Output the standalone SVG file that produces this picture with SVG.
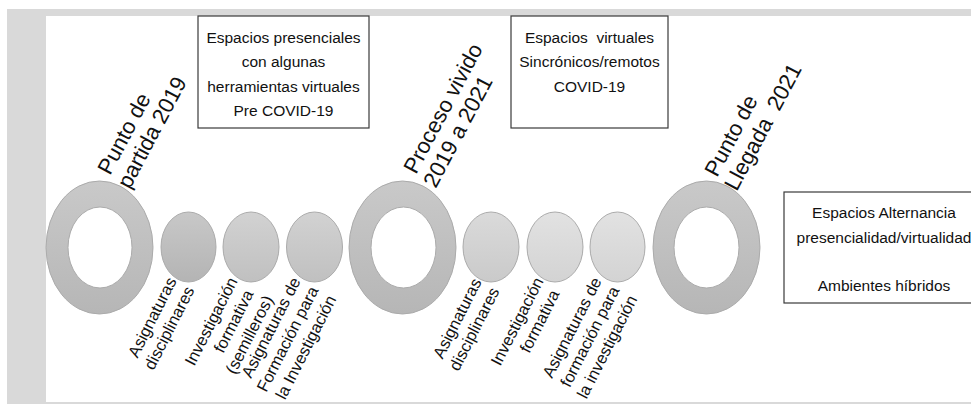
<svg xmlns="http://www.w3.org/2000/svg" width="971" height="404" viewBox="0 0 971 404">
<defs>
<linearGradient id="gRing" x1="0" y1="0" x2="0" y2="1"><stop offset="0" stop-color="#c9c9c9"/><stop offset="1" stop-color="#b6b6b6"/></linearGradient>
<linearGradient id="gA1" x1="0" y1="0" x2="0" y2="1"><stop offset="0" stop-color="#c8c8c8"/><stop offset="1" stop-color="#b4b4b4"/></linearGradient>
<linearGradient id="gA2" x1="0" y1="0" x2="0" y2="1"><stop offset="0" stop-color="#d2d2d2"/><stop offset="1" stop-color="#c0c0c0"/></linearGradient>
<linearGradient id="gB1" x1="0" y1="0" x2="0" y2="1"><stop offset="0" stop-color="#dadada"/><stop offset="1" stop-color="#cacaca"/></linearGradient>
<linearGradient id="gB2" x1="0" y1="0" x2="0" y2="1"><stop offset="0" stop-color="#e2e2e2"/><stop offset="1" stop-color="#d3d3d3"/></linearGradient>
</defs>
<style>
.frame{fill:#d9d9d9}
.ring{fill:url(#gRing);stroke:#ababab;stroke-width:1}
.hole{fill:#ffffff;stroke:#ababab;stroke-width:1}
.dot{stroke:#ababab;stroke-width:1}
.box{fill:#ffffff;stroke:#3a3a3a;stroke-width:1.2}
.bt{font-family:"Liberation Sans",Arial,sans-serif;font-size:15.5px;fill:#111;text-anchor:middle}
.big{font-family:"Liberation Sans",Arial,sans-serif;font-size:22px;fill:#111}
.sm{font-family:"Liberation Sans",Arial,sans-serif;font-size:16.5px;fill:#111;text-anchor:end}
</style>
<rect x="0" y="0" width="971" height="404" fill="#ffffff"/>
<rect class="frame" x="7" y="9" width="964" height="7"/>
<rect class="frame" x="7" y="9" width="39" height="395"/>
<rect class="frame" x="7" y="402" width="964" height="2"/>

<g id="connectors"/>

<g id="box1">
<rect class="box" x="198" y="16" width="171" height="112"/>
<text class="bt" x="283.5" y="42.5">Espacios presenciales</text>
<text class="bt" x="283.5" y="67">con algunas</text>
<text class="bt" x="283.5" y="91.5">herramientas virtuales</text>
<text class="bt" x="283.5" y="115.5">Pre COVID-19</text>
</g>
<g id="box2">
<rect class="box" x="511" y="16" width="157" height="112"/>
<text class="bt" x="589.5" y="42.5" xml:space="preserve">Espacios  virtuales</text>
<text class="bt" x="589.5" y="67">Sincrónicos/remotos</text>
<text class="bt" x="589.5" y="91.5">COVID-19</text>
</g>
<g id="box3">
<rect class="box" x="784" y="192" width="200" height="111"/>
<text class="bt" x="884" y="217.5">Espacios Alternancia</text>
<text class="bt" x="884" y="242.5">presencialidad/virtualidad</text>
<text class="bt" x="884" y="290.5">Ambientes híbridos</text>
</g>

<g id="ring1">
<ellipse class="ring" cx="99.5" cy="247.5" rx="53.5" ry="66.5"/>
<ellipse class="hole" cx="100" cy="247.5" rx="32" ry="40.5"/>
<g transform="translate(110,176) rotate(-62)">
<text class="big" x="0" y="0">Punto de</text>
<text class="big" x="-3" y="24">partida 2019</text>
</g>
</g>
<g id="ring2">
<ellipse class="ring" cx="402.5" cy="247.5" rx="53.5" ry="66.5"/>
<ellipse class="hole" cx="403.5" cy="247.5" rx="32.5" ry="40.5"/>
<g transform="translate(416,175) rotate(-62)">
<text class="big" x="0" y="0">Proceso vivido</text>
<text class="big" x="-3" y="24">2019 a 2021</text>
</g>
</g>
<g id="ring3">
<ellipse class="ring" cx="706.5" cy="247.5" rx="53.5" ry="66.5"/>
<ellipse class="hole" cx="706.5" cy="247.5" rx="32.5" ry="40.5"/>
<g transform="translate(717,178) rotate(-62)">
<text class="big" x="0" y="0">Punto de</text>
<text class="big" x="-3" y="24" xml:space="preserve">Llegada  2021</text>
</g>
</g>

<g id="dotA1">
<ellipse class="dot" fill="url(#gA1)" cx="188.5" cy="247" rx="27.5" ry="35"/>
<g transform="translate(177,281) rotate(-63)">
<text class="sm" x="0" y="0">Asignaturas</text>
<text class="sm" x="0" y="20">disciplinares</text>
</g>
</g>
<g id="dotA2">
<ellipse class="dot" fill="url(#gA2)" cx="251" cy="247" rx="28" ry="35"/>
<g transform="translate(238,281) rotate(-63)">
<text class="sm" x="0" y="0">Investigación</text>
<text class="sm" x="-4" y="20">formativa</text>
<text class="sm" x="0" y="40">(semilleros)</text>
</g>
</g>
<g id="dotA3">
<ellipse class="dot" fill="url(#gA2)" cx="314.5" cy="247" rx="28" ry="35"/>
<g transform="translate(301,281) rotate(-63)">
<text class="sm" x="0" y="0">Asignaturas de</text>
<text class="sm" x="0" y="20">Formación para</text>
<text class="sm" x="0" y="40">la Investigación</text>
</g>
</g>
<g id="dotB1">
<ellipse class="dot" fill="url(#gB1)" cx="491" cy="247" rx="28" ry="35"/>
<g transform="translate(482,282) rotate(-63)">
<text class="sm" x="0" y="0">Asignaturas</text>
<text class="sm" x="0" y="20">disciplinares</text>
</g>
</g>
<g id="dotB2">
<ellipse class="dot" fill="url(#gB2)" cx="555" cy="247" rx="28" ry="35"/>
<g transform="translate(544,281) rotate(-63)">
<text class="sm" x="0" y="0">Investigación</text>
<text class="sm" x="-4" y="20">formativa</text>
</g>
</g>
<g id="dotB3">
<ellipse class="dot" fill="url(#gB2)" cx="617.5" cy="247" rx="27.5" ry="35"/>
<g transform="translate(602,281) rotate(-63)">
<text class="sm" x="0" y="0">Asignaturas de</text>
<text class="sm" x="0" y="20">formación para</text>
<text class="sm" x="0" y="40">la investigación</text>
</g>
</g>
</svg>
